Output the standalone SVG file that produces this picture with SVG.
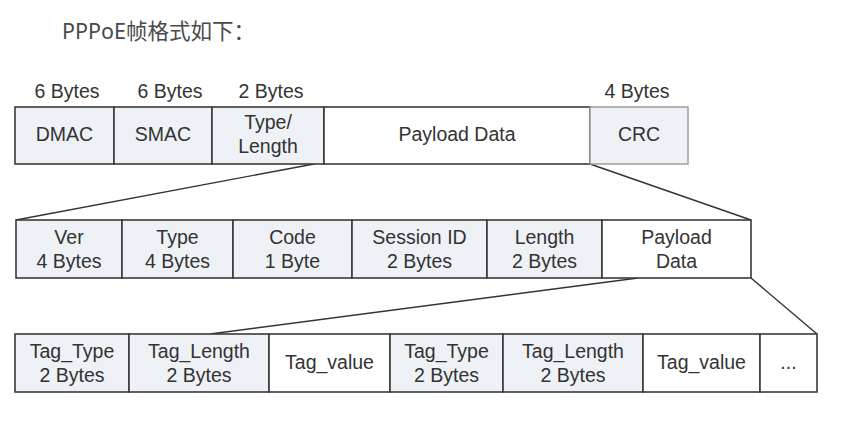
<svg xmlns="http://www.w3.org/2000/svg" width="864" height="426" viewBox="0 0 864 426">
<style>
.f{fill:#eef1f6;stroke:#3a3a3a;stroke-width:1.6}
.w{fill:#ffffff;stroke:#3a3a3a;stroke-width:1.6}
.t{font-family:"Liberation Sans",Arial,sans-serif;font-size:19.5px;fill:#333;text-anchor:middle}
.c{stroke:#333;stroke-width:1.4;fill:none}
</style>
<rect width="864" height="426" fill="#fff"/>
<text x="62" y="39" font-family="'Noto Sans','Noto Sans CJK SC',sans-serif" font-size="21.5" fill="#4a4a4a">PPPoE帧格式如下：</text>
<g id="sizes" class="t">
<text x="67" y="98">6 Bytes</text>
<text x="170" y="98">6 Bytes</text>
<text x="271" y="98">2 Bytes</text>
<text x="637" y="98">4 Bytes</text>
</g>
<g id="connectors">
<line class="c" x1="314" y1="164" x2="16" y2="220"/>
<line class="c" x1="590" y1="164" x2="751" y2="220"/>
<line class="c" x1="638" y1="278" x2="210" y2="334"/>
<line class="c" x1="751" y1="278" x2="817" y2="334"/>
</g>
<g id="dmac"><rect class="f" x="15" y="107" width="99" height="57"/><text class="t" x="64.5" y="141">DMAC</text></g>
<g id="smac"><rect class="f" x="114" y="107" width="98" height="57"/><text class="t" x="163" y="141">SMAC</text></g>
<g id="typelen"><rect class="f" x="212" y="107" width="112" height="57"/><text class="t" x="268" y="129">Type/</text><text class="t" x="268" y="153">Length</text></g>
<g id="payload1"><rect class="w" x="324" y="107" width="266" height="57"/><text class="t" x="457" y="141">Payload Data</text></g>
<g id="crc"><rect x="590" y="107" width="98" height="57" fill="#eef1f6" stroke="#999" stroke-width="1.4"/><text class="t" x="639" y="141">CRC</text></g>

<g id="ver"><rect class="f" x="16" y="220" width="106" height="58"/><text class="t" x="69" y="244">Ver</text><text class="t" x="69" y="268">4 Bytes</text></g>
<g id="type"><rect class="f" x="122" y="220" width="111" height="58"/><text class="t" x="177.5" y="244">Type</text><text class="t" x="177.5" y="268">4 Bytes</text></g>
<g id="code"><rect class="f" x="233" y="220" width="119" height="58"/><text class="t" x="292.5" y="244">Code</text><text class="t" x="292.5" y="268">1 Byte</text></g>
<g id="session"><rect class="f" x="352" y="220" width="135" height="58"/><text class="t" x="419.5" y="244">Session ID</text><text class="t" x="419.5" y="268">2 Bytes</text></g>
<g id="length"><rect class="f" x="487" y="220" width="115" height="58"/><text class="t" x="544.5" y="244">Length</text><text class="t" x="544.5" y="268">2 Bytes</text></g>
<g id="payload2"><rect class="w" x="602" y="220" width="149" height="58"/><text class="t" x="676.5" y="244">Payload</text><text class="t" x="676.5" y="268">Data</text></g>

<g id="tagtype1"><rect class="f" x="15" y="334" width="114" height="58"/><text class="t" x="72" y="358">Tag_Type</text><text class="t" x="72" y="382">2 Bytes</text></g>
<g id="taglen1"><rect class="f" x="129" y="334" width="140" height="58"/><text class="t" x="199" y="358">Tag_Length</text><text class="t" x="199" y="382">2 Bytes</text></g>
<g id="tagval1"><rect class="w" x="269" y="334" width="121" height="58"/><text class="t" x="329.5" y="369">Tag_value</text></g>
<g id="tagtype2"><rect class="f" x="390" y="334" width="113" height="58"/><text class="t" x="446.5" y="358">Tag_Type</text><text class="t" x="446.5" y="382">2 Bytes</text></g>
<g id="taglen2"><rect class="f" x="503" y="334" width="140" height="58"/><text class="t" x="573" y="358">Tag_Length</text><text class="t" x="573" y="382">2 Bytes</text></g>
<g id="tagval2"><rect class="w" x="643" y="334" width="117" height="58"/><text class="t" x="701.5" y="369">Tag_value</text></g>
<g id="more"><rect class="w" x="760" y="334" width="57" height="58"/><text class="t" x="788.5" y="369">...</text></g>
</svg>
